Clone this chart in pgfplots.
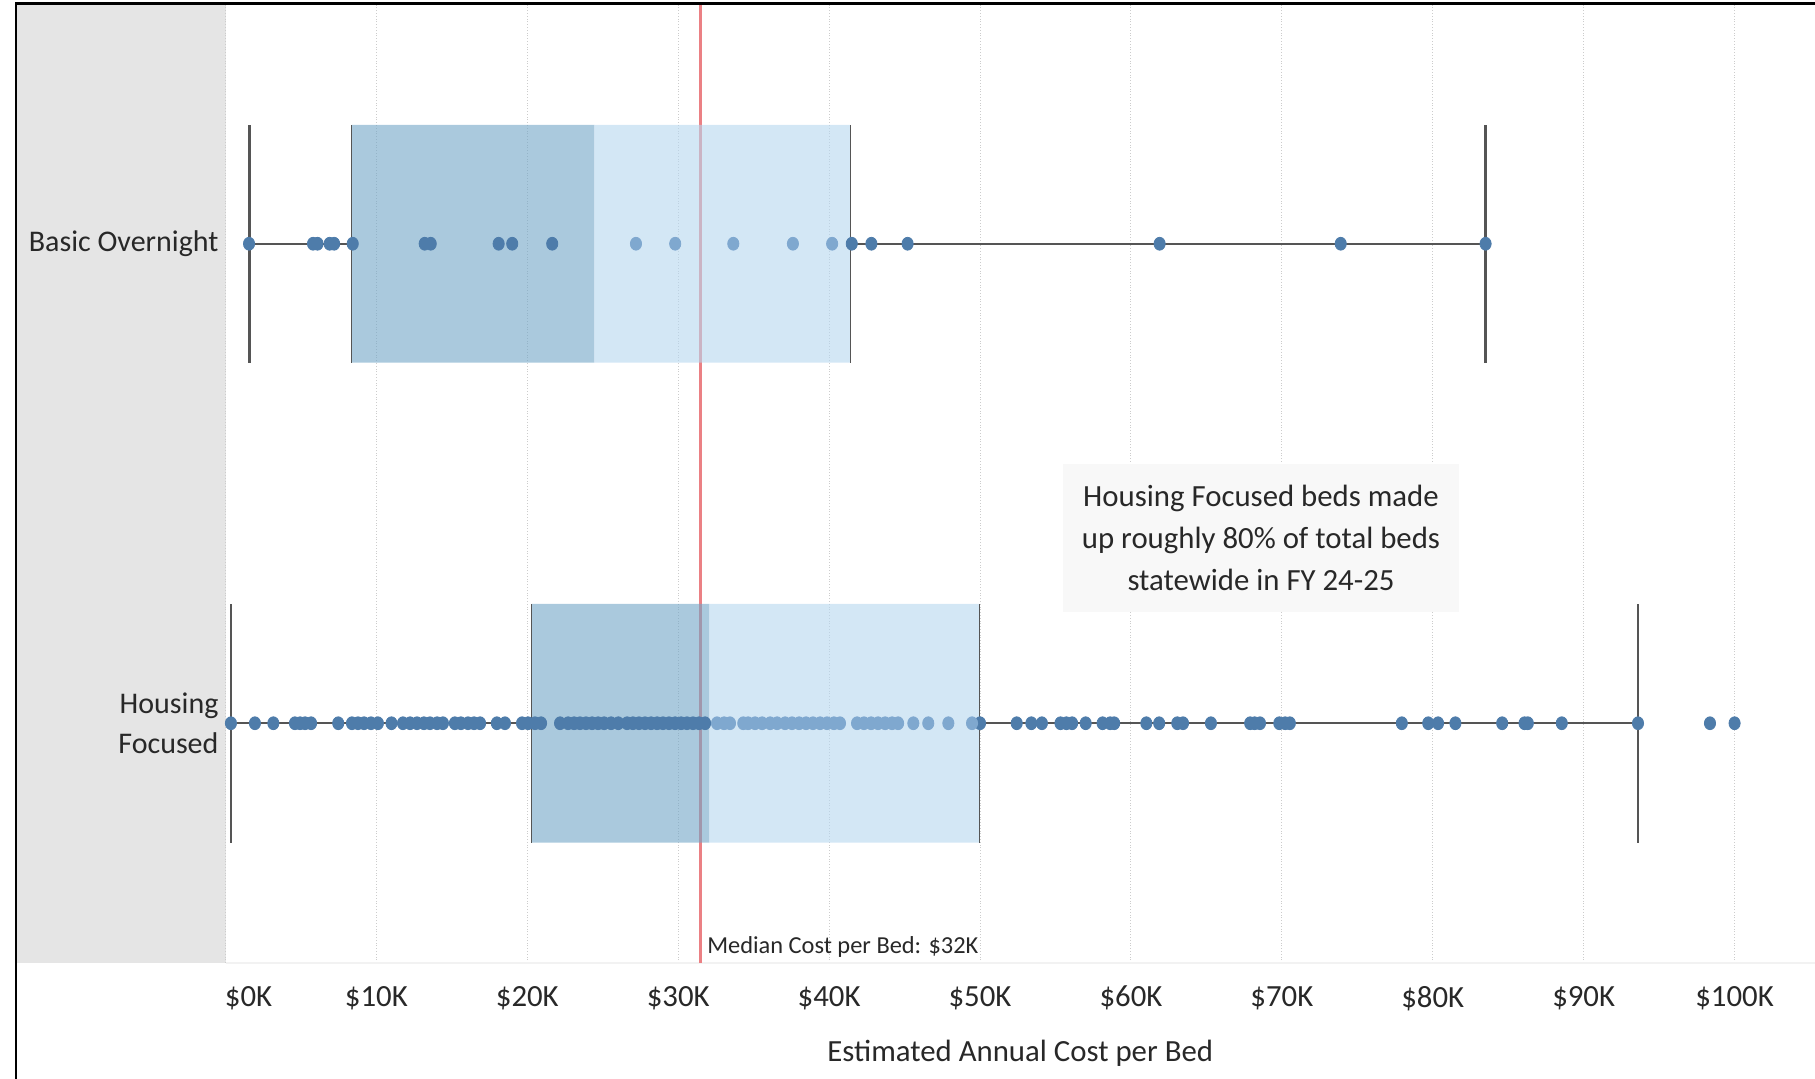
\documentclass[border=0pt]{standalone}
\usepackage{pgfplots}
\pgfplotsset{compat=1.18}
\usepackage{fontspec}
\setmainfont{Carlito}
\definecolor{panelgray}{RGB}{229,229,229}
\definecolor{darkbox}{RGB}{113,165,198}
\definecolor{lightbox}{RGB}{182,215,239}
\definecolor{darkdot}{RGB}{78,124,170}
\definecolor{lightdot}{RGB}{127,168,207}
\definecolor{medianred}{RGB}{235,128,132}
\definecolor{whisk}{RGB}{85,85,85}
\definecolor{annobg}{RGB}{248,248,248}
\definecolor{textdark}{RGB}{40,40,40}
\begin{document}
\begin{tikzpicture}
\useasboundingbox (0,0) rectangle (907.5pt,539.5pt);
\fill[panelgray] (8.5pt,58pt) rectangle (112.75pt,537.5pt);
\begin{axis}[
  at={(112.75pt,58pt)}, anchor=south west,
  scale only axis, width=794.75pt, height=479.5pt,
  xmin=0, xmax=105.33, ymin=-0.5, ymax=1.5,
  axis line style={draw=none},
  tick style={draw=none},
  xtick={0,10,20,30,40,50,60,70,80,90,100},
  xticklabels={{\hspace*{23pt}\$0K},{\$10K},{\$20K},{\$30K},{\$40K},{\$50K},{\$60K},{\$70K},{\$80K},{\$90K},{\$100K}},
  xticklabel style={font=\fontsize{15.4}{18}\selectfont, text=textdark, yshift=-8pt},
  xmajorgrids,
  grid style={densely dotted, gray!40, line width=0.5pt},
  ytick={0,1},
  yticklabels={{Housing\\Focused},{Basic Overnight}},
  yticklabel style={align=right, font=\fontsize{15}{20}\selectfont, text=textdark},
  xlabel={Estimated Annual Cost per Bed},
  xlabel style={at={(rel axis cs:0.5,0)}, anchor=center, yshift=-45pt, font=\fontsize{15.4}{18}\selectfont, text=textdark},
  clip=false,
  dots/.style={only marks, mark=*, mark size=2.8pt, mark options={solid, yscale=1.15}},
]
% bottom axis line
\draw[gray!10, line width=0.8pt] (rel axis cs:0,0) -- (rel axis cs:1,0);
% median reference line
\addplot[medianred, line width=1.6pt] coordinates {(31.5,-0.5) (31.5,1.5)};
% boxes: Basic Overnight (y=1)
\addplot[draw=none, fill=darkbox, fill opacity=0.6] coordinates {(8.36,0.752) (24.45,0.752) (24.45,1.248) (8.36,1.248) (8.36,0.752)};
\addplot[draw=none, fill=lightbox, fill opacity=0.6] coordinates {(24.45,0.752) (41.4,0.752) (41.4,1.248) (24.45,1.248) (24.45,0.752)};
% boxes: Housing Focused (y=0)
\addplot[draw=none, fill=darkbox, fill opacity=0.6] coordinates {(20.29,-0.249) (32.06,-0.249) (32.06,0.249) (20.29,0.249) (20.29,-0.249)};
\addplot[draw=none, fill=lightbox, fill opacity=0.6] coordinates {(32.06,-0.249) (49.95,-0.249) (49.95,0.249) (32.06,0.249) (32.06,-0.249)};
% box side borders
\addplot[whisk, line width=0.6pt] coordinates {(8.36,0.752) (8.36,1.248)};
\addplot[whisk, line width=0.6pt] coordinates {(41.4,0.752) (41.4,1.248)};
\addplot[whisk, line width=0.6pt] coordinates {(20.29,-0.249) (20.29,0.249)};
\addplot[whisk, line width=0.6pt] coordinates {(49.95,-0.249) (49.95,0.249)};
% whiskers
\addplot[whisk, line width=1.1pt] coordinates {(1.59,1) (8.36,1)};
\addplot[whisk, line width=1.1pt] coordinates {(41.4,1) (83.5,1)};
\addplot[whisk, line width=1.4pt] coordinates {(1.59,0.752) (1.59,1.248)};
\addplot[whisk, line width=1.4pt] coordinates {(83.5,0.752) (83.5,1.248)};
\addplot[whisk, line width=1.1pt] coordinates {(0.36,0) (20.29,0)};
\addplot[whisk, line width=1.1pt] coordinates {(49.95,0) (93.6,0)};
\addplot[whisk, line width=1.4pt] coordinates {(0.36,-0.249) (0.36,0.249)};
\addplot[whisk, line width=1.4pt] coordinates {(93.6,-0.249) (93.6,0.249)};
% dots: Basic Overnight
\addplot[dots, color=darkdot] coordinates {
(1.56,1) (5.8,1) (6.1,1) (6.9,1) (7.2,1) (8.43,1) (13.2,1) (13.6,1) (18.1,1) (19.0,1) (21.65,1)
(41.5,1) (42.8,1) (45.2,1) (61.9,1) (73.9,1) (83.5,1)};
\addplot[dots, color=lightdot] coordinates {
(27.2,1) (29.8,1) (33.65,1) (37.6,1) (40.2,1)};
% dots: Housing Focused
\addplot[dots, color=darkdot] coordinates {
(0.36,0) (1.95,0) (3.17,0) (4.6,0) (4.94,0) (5.27,0) (5.67,0) (7.47,0) (8.38,0) (8.78,0) (9.18,0) (9.64,0) (10.1,0)
(11.0,0) (11.76,0) (12.23,0) (12.69,0) (13.15,0) (13.55,0) (14.02,0) (14.41,0) (15.2,0) (15.6,0) (16.07,0) (16.47,0) (16.87,0)
(17.98,0) (18.52,0) (19.65,0) (20.05,0) (20.51,0) (20.91,0) (22.17,0) (22.70,0) (23.10,0) (23.49,0) (23.89,0) (24.29,0)
(24.69,0) (25.09,0) (25.55,0) (26.03,0) (26.61,0) (27.0,0) (27.40,0) (27.80,0) (28.20,0) (28.60,0) (28.99,0) (29.39,0)
(29.79,0) (30.19,0) (30.58,0) (30.98,0) (31.38,0) (31.78,0)
(50.0,0) (52.43,0) (53.40,0) (54.10,0) (55.33,0) (55.72,0) (56.10,0) (57.0,0) (58.12,0) (58.62,0) (58.89,0) (61.02,0)
(61.87,0) (63.07,0) (63.45,0) (65.3,0) (67.9,0) (68.2,0) (68.55,0) (69.83,0) (70.22,0) (70.53,0) (77.95,0) (79.7,0)
(80.35,0) (81.5,0) (84.6,0) (86.08,0) (86.3,0) (88.55,0) (93.6,0) (98.37,0) (100.0,0)};
\addplot[dots, color=lightdot] coordinates {
(32.57,0) (33.04,0) (33.43,0) (34.31,0) (34.63,0) (35.09,0) (35.56,0) (36.09,0) (36.55,0) (37.08,0) (37.54,0) (38.01,0)
(38.47,0) (38.93,0) (39.40,0) (39.86,0) (40.32,0) (40.72,0) (41.85,0) (42.31,0) (42.78,0) (43.24,0) (43.71,0) (44.17,0)
(44.57,0) (45.58,0) (46.57,0) (47.90,0) (49.47,0)};
% annotation
\node[fill=annobg, minimum width=198.3pt, minimum height=74pt, align=center, inner sep=0pt,
  font=\fontsize{15.4}{21}\selectfont, text=textdark] at (axis cs:68.62,0.386)
  {Housing Focused beds made\\up roughly 80\% of total beds\\statewide in FY 24-25};
% median label
\node[anchor=west, inner sep=0pt, xshift=3pt, yshift=8pt, font=\fontsize{12.2}{14}\selectfont, text=textdark]
  at (axis cs:31.5,-0.5) {Median Cost per Bed: \$32K};
\end{axis}
\draw[black, line width=1.3pt] (8pt,0pt) -- (8pt,537.6pt) -- (907.5pt,537.6pt);
\end{tikzpicture}
\end{document}
